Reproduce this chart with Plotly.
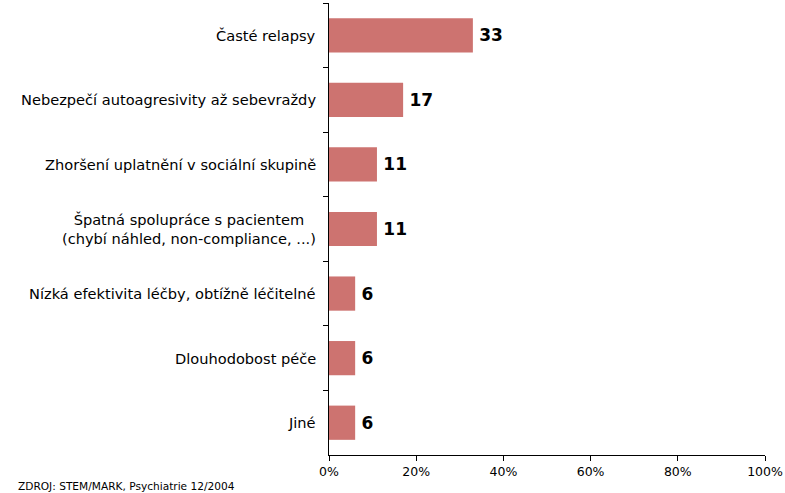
import plotly.graph_objects as go

# Data
categories = [
    "Časté relapsy",
    "Nebezpečí autoagresivity až sebevraždy",
    "Zhoršení uplatnění v sociální skupině",
    "Špatná spolupráce s pacientem<br>(chybí náhled, non-compliance, ...)",
    "Nízká efektivita léčby, obtížně léčitelné",
    "Dlouhodobost péče",
    "Jiné",
]
values = [33, 17, 11, 11, 6, 6, 6]
x_ticks = [0, 20, 40, 60, 80, 100]
x_tick_labels = ["0%", "20%", "40%", "60%", "80%", "100%"]
source_note = "ZDROJ: STEM/MARK, Psychiatrie 12/2004"

FONT = "DejaVu Sans, Verdana, sans-serif"
BAR_COLOR = "#CD7370"

fig = go.Figure(
    go.Bar(
        x=values,
        y=categories,
        orientation="h",
        marker=dict(color=BAR_COLOR, line=dict(width=0)),
        text=["\u2009" + str(v) for v in values],
        textposition="outside",
        textfont=dict(family=FONT, size=17, color="#000000", weight="bold"),
        cliponaxis=False,
        width=0.53,
    )
)

# Category labels as centred annotations left of the axis
for cat in categories:
    fig.add_annotation(
        x=0, xref="paper", y=cat, yref="y",
        text=cat, showarrow=False,
        xanchor="right", yanchor="middle", align="center",
        xshift=-11,
        font=dict(family=FONT, size=14.6, color="#000000"),
    )

# Source note in the bottom-left corner
fig.add_annotation(
    x=0, xref="paper", y=0, yref="paper",
    xshift=-313, yshift=-31,
    text=source_note, showarrow=False,
    xanchor="left", yanchor="middle",
    font=dict(family=FONT, size=10.6, color="#000000"),
)

fig.update_layout(
    width=785,
    height=493,
    margin=dict(l=329, r=20, t=3, b=38),
    paper_bgcolor="white",
    plot_bgcolor="white",
    showlegend=False,
    font=dict(family=FONT, color="#000000"),
    xaxis=dict(
        range=[0, 100],
        tickvals=x_ticks,
        ticktext=x_tick_labels,
        ticks="outside",
        ticklen=5,
        tickcolor="#000000",
        showline=True,
        linecolor="#000000",
        linewidth=1,
        showgrid=False,
        zeroline=False,
        automargin=False,
        tickfont=dict(family=FONT, size=12.5, color="#000000"),
        fixedrange=True,
    ),
    yaxis=dict(
        type="category",
        autorange="reversed",
        showticklabels=False,
        ticks="outside",
        tickson="boundaries",
        ticklen=5,
        tickcolor="#000000",
        showline=True,
        linecolor="#000000",
        linewidth=1,
        showgrid=False,
        zeroline=False,
        automargin=False,
        fixedrange=True,
    ),
)

fig.write_html("out.html")
